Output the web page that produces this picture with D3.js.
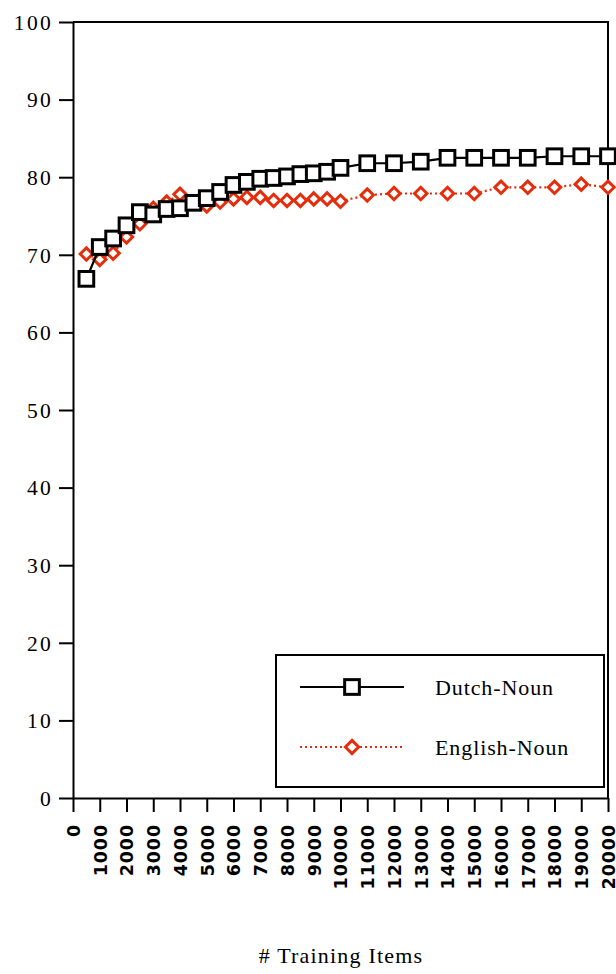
<!DOCTYPE html>
<html>
<head>
<meta charset="utf-8">
<script src="https://cdn.jsdelivr.net/npm/d3@7"></script>
<style>
  html, body { margin: 0; padding: 0; background: #fff; }
</style>
</head>
<body>
<div id="chart"></div>
<script>
// training set sizes (x) and accuracy (%) for each series
const trainingItems = [500, 1000, 1500, 2000, 2500, 3000, 3500, 4000, 4500, 5000,
  5500, 6000, 6500, 7000, 7500, 8000, 8500, 9000, 9500, 10000,
  11000, 12000, 13000, 14000, 15000, 16000, 17000, 18000, 19000, 20000];
const dutchNoun = [66.9, 71.0, 72.1, 73.8, 75.5, 75.2, 75.9, 76.0, 76.7, 77.3,
  78.1, 79.0, 79.4, 79.8, 79.9, 80.1, 80.4, 80.5, 80.7, 81.2,
  81.8, 81.8, 82.0, 82.5, 82.5, 82.5, 82.5, 82.7, 82.7, 82.7];
const englishNoun = [70.1, 69.4, 70.2, 72.3, 74.0, 76.0, 76.8, 77.8, 76.7, 76.3,
  76.8, 77.2, 77.4, 77.4, 77.0, 77.0, 77.0, 77.2, 77.2, 76.9,
  77.7, 77.9, 77.9, 77.9, 77.9, 78.7, 78.7, 78.7, 79.1, 78.7];
const seriesNames = ["Dutch-Noun", "English-Noun"];
const xTicks = d3.range(0, 20001, 1000);
const yTicks = d3.range(0, 101, 10);
const xTitle = "# Training Items";

const width = 616;
const height = 974;
const marginTop = 22;
const marginRight = 8;
const marginBottom = 176;
const marginLeft = 73;

const red = "#e52d0c";
const serif = "'Liberation Serif', 'Times New Roman', serif";

const svg = d3.select("#chart")
  .append("svg")
  .attr("width", width)
  .attr("height", height)
  .attr("viewBox", [0, 0, width, height]);

const x = d3.scaleLinear()
  .domain([0, 20000])
  .range([marginLeft, width - marginRight]);

const y = d3.scaleLinear()
  .domain([0, 100])
  .range([height - marginBottom, marginTop]);

// frame: top and right edges
svg.append("path")
  .attr("fill", "none")
  .attr("stroke", "#000")
  .attr("stroke-width", 2)
  .attr("d", `M${x(0)},${y(100)}H${x(20000)}V${y(0)}`);

// y axis
const gy = svg.append("g")
  .attr("transform", `translate(${marginLeft},0)`)
  .call(d3.axisLeft(y).tickValues(yTicks).tickSize(14).tickSizeOuter(0).tickPadding(6));
gy.selectAll("path, line").attr("stroke", "#000").attr("stroke-width", 2);
gy.selectAll("text")
  .attr("font-family", serif)
  .attr("font-size", 21.5)
  .attr("letter-spacing", 2.3)
  .attr("dy", "0.34em")
  .attr("fill", "#000");

// x axis, labels turned to read upwards
const gx = svg.append("g")
  .attr("transform", `translate(0,${height - marginBottom})`)
  .call(d3.axisBottom(x).tickValues(xTicks).tickSize(14).tickSizeOuter(0).tickFormat(d3.format("d")));
gx.selectAll("path, line").attr("stroke", "#000").attr("stroke-width", 2);
gx.selectAll("text")
  .attr("font-family", "'DejaVu Sans', sans-serif")
  .attr("font-weight", "bold")
  .attr("font-size", 17.5)
  .attr("letter-spacing", 0.9)
  .attr("text-anchor", "end")
  .attr("transform", "rotate(-90)")
  .attr("x", -26)
  .attr("y", 0)
  .attr("dy", "0.36em")
  .attr("fill", "#000");

svg.append("text")
  .attr("x", 341)
  .attr("y", 963)
  .attr("text-anchor", "middle")
  .attr("font-family", serif)
  .attr("font-size", 22)
  .attr("letter-spacing", 1.2)
  .text(xTitle);

const line = d3.line()
  .x(d => x(d[0]))
  .y(d => y(d[1]));

const englishData = d3.zip(trainingItems, englishNoun);
const dutchData = d3.zip(trainingItems, dutchNoun);

const diamond = r => `M0,${-r}L${r},0L0,${r}L${-r},0Z`;
const sq = 14.7;

// English first so the Dutch squares sit on top
svg.append("path")
  .datum(englishData)
  .attr("fill", "none")
  .attr("stroke", red)
  .attr("stroke-width", 2.2)
  .attr("stroke-dasharray", "2,3")
  .attr("d", line);

svg.append("g")
  .selectAll("path")
  .data(englishData)
  .join("path")
    .attr("transform", d => `translate(${x(d[0])},${y(d[1])})`)
    .attr("d", diamond(6.2))
    .attr("fill", "#fff")
    .attr("stroke", red)
    .attr("stroke-width", 3);

svg.append("path")
  .datum(dutchData)
  .attr("fill", "none")
  .attr("stroke", "#000")
  .attr("stroke-width", 2.2)
  .attr("d", line);

svg.append("g")
  .selectAll("rect")
  .data(dutchData)
  .join("rect")
    .attr("x", d => x(d[0]) - sq / 2)
    .attr("y", d => y(d[1]) - sq / 2)
    .attr("width", sq)
    .attr("height", sq)
    .attr("fill", "#fff")
    .attr("stroke", "#000")
    .attr("stroke-width", 3);

// legend
const legend = svg.append("g");
legend.append("rect")
  .attr("x", 276)
  .attr("y", 655)
  .attr("width", 328)
  .attr("height", 132)
  .attr("fill", "#fff")
  .attr("stroke", "#000")
  .attr("stroke-width", 2);

const items = legend.selectAll("g.item")
  .data(seriesNames)
  .join("g")
    .attr("class", "item")
    .attr("transform", (d, i) => `translate(300,${687 + i * 60})`);

items.append("line")
  .attr("x1", 0)
  .attr("x2", 104)
  .attr("stroke", (d, i) => i ? red : "#000")
  .attr("stroke-width", 2.2)
  .attr("stroke-dasharray", (d, i) => i ? "2,3" : null);

items.filter((d, i) => i === 0).append("rect")
  .attr("x", 52 - sq / 2)
  .attr("y", -sq / 2)
  .attr("width", sq)
  .attr("height", sq)
  .attr("fill", "#fff")
  .attr("stroke", "#000")
  .attr("stroke-width", 3);

items.filter((d, i) => i === 1).append("path")
  .attr("transform", "translate(52,0)")
  .attr("d", diamond(6.6))
  .attr("fill", "#fff")
  .attr("stroke", red)
  .attr("stroke-width", 3);

items.append("text")
  .attr("x", 135)
  .attr("y", 8)
  .attr("font-family", serif)
  .attr("font-size", 22)
  .attr("letter-spacing", 0.9)
  .text(d => d);
</script>
</body>
</html>
